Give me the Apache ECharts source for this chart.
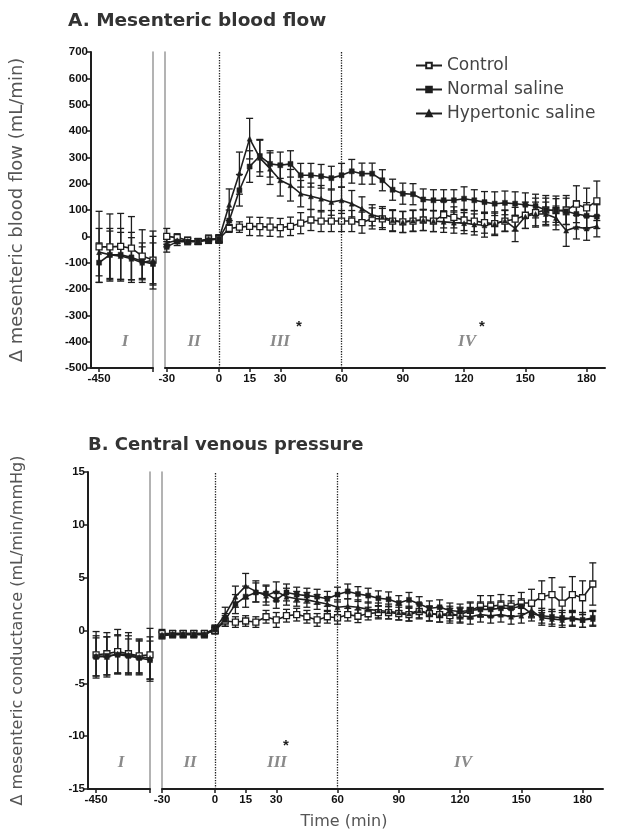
<!DOCTYPE html>
<html><head><meta charset="utf-8">
<script src="https://cdn.jsdelivr.net/npm/echarts@6/dist/echarts.min.js"></script>
<style>html,body{margin:0;padding:0;background:#fff}#c{width:623px;height:835px}</style>
</head><body><div id="c"></div>
<script>
// ---- time points (min): phase I baseline, phase II, phases III-IV ----
const time = [-450,-444,-438,-432,-426,-420,
  -30,-24,-18,-12,-6,0,
  5,10,15,20,25,30,35,40,45,50,55,60,65,70,75,80,85,90,95,100,105,110,115,120,125,130,135,140,145,150,155,160,165,170,175,180,185];

const seriesNames = ['Control','Normal saline','Hypertonic saline'];

// ---- Panel A: mesenteric blood flow (mL/min) ----
const flowControl = [-40,-40,-38,-45,-75,-90,
  0,-5,-15,-20,-10,-10,
  30,35,38,37,35,33,38,50,62,58,58,58,58,52,68,66,58,55,58,62,58,82,72,62,58,52,48,58,65,80,90,100,98,100,122,108,135];
const flowControlSE = [135,125,125,120,100,110,
  30,15,12,10,15,15,
  15,20,35,35,35,35,35,40,40,40,40,40,40,40,40,40,40,40,40,40,40,50,40,40,40,40,40,40,45,50,55,55,55,55,70,75,75];
const flowNS = [-100,-70,-70,-80,-95,-105,
  -40,-20,-20,-20,-15,-10,
  60,175,265,305,275,270,275,232,232,228,221,232,247,238,238,213,177,162,160,140,137,137,137,143,137,130,124,127,124,120,115,100,98,95,85,78,75];
const flowNSSE = [75,100,100,95,70,80,
  20,15,12,10,12,15,
  40,60,60,60,50,50,50,45,45,45,45,45,45,40,40,40,40,40,40,40,40,40,40,45,40,40,45,45,45,45,45,45,45,50,50,50,45];
const flowHS = [-60,-70,-75,-85,-100,-90,
  -25,-15,-18,-18,-10,-10,
  120,240,371,298,257,213,194,162,152,143,130,137,124,105,80,73,61,54,60,62,58,55,52,50,45,42,48,60,30,75,85,85,70,22,35,30,38];
const flowHSSE = [90,90,90,80,60,90,
  15,12,10,10,10,12,
  60,80,77,70,60,60,60,50,50,50,50,50,50,45,40,40,40,40,40,40,40,40,40,40,40,45,45,40,50,45,45,45,45,60,45,45,40];

// ---- Panel B: mesenteric conductance (mL/min/mmHg) ----
const condControl = [-2.3,-2.2,-2.0,-2.2,-2.4,-2.3,
  -0.3,-0.3,-0.3,-0.3,-0.3,0.0,
  0.9,0.8,0.9,0.8,1.3,1.0,1.4,1.5,1.3,1.0,1.3,1.2,1.5,1.35,1.6,1.7,1.7,1.6,1.5,1.8,1.6,1.5,1.4,1.5,1.9,2.3,2.3,2.4,2.3,2.6,2.6,3.2,3.4,2.6,3.4,3.1,4.4];
const condControlSE = [2.2,2.0,2.1,2.0,1.6,2.5,
  0.4,0.3,0.3,0.3,0.3,0.3,
  0.5,0.5,0.5,0.5,0.6,0.7,0.6,0.6,0.6,0.6,0.6,0.6,0.6,0.6,0.6,0.6,0.6,0.6,0.6,0.7,0.7,0.7,0.7,0.7,0.8,1.0,1.0,1.0,1.0,1.0,1.3,1.5,1.6,1.5,1.7,1.6,2.0];
const condNS = [-2.5,-2.4,-2.3,-2.4,-2.6,-2.8,
  -0.5,-0.4,-0.4,-0.4,-0.4,0.1,
  1.0,2.5,3.2,3.6,3.5,2.9,3.6,3.4,3.3,3.2,3.0,3.4,3.7,3.45,3.3,3.05,2.95,2.6,2.9,2.5,2.1,2.2,1.9,1.8,1.9,2.0,2.0,2.1,2.1,2.3,1.6,1.4,1.3,1.2,1.1,1.0,1.2];
const condNSSE = [1.8,1.8,1.8,1.6,1.6,1.8,
  0.3,0.3,0.3,0.3,0.3,0.3,
  0.6,0.9,1.0,0.9,0.8,0.8,0.8,0.7,0.7,0.7,0.7,0.7,0.7,0.7,0.7,0.7,0.7,0.7,0.7,0.7,0.7,0.7,0.7,0.7,0.7,0.7,0.7,0.7,0.7,0.7,0.7,0.7,0.7,0.7,0.7,0.7,0.7];
const condHS = [-2.4,-2.5,-2.2,-2.3,-2.5,-2.6,
  -0.4,-0.3,-0.3,-0.3,-0.3,0.2,
  1.5,3.2,4.2,3.7,3.3,3.7,3.2,3.0,2.9,2.7,2.5,2.2,2.3,2.2,2.0,1.9,1.8,1.7,1.6,1.9,1.6,1.5,1.6,1.4,1.3,1.5,1.4,1.5,1.3,1.4,1.9,1.2,1.1,1.0,1.2,1.0,1.1];
const condHSSE = [1.9,1.9,1.8,1.8,1.6,2.0,
  0.3,0.3,0.3,0.3,0.3,0.3,
  0.7,1.0,1.2,1.0,0.9,0.9,0.8,0.7,0.7,0.7,0.7,0.7,0.7,0.7,0.7,0.7,0.7,0.7,0.7,0.7,0.7,0.7,0.7,0.7,0.7,0.7,0.7,0.7,0.7,0.7,0.7,0.7,0.7,0.7,0.7,0.7,0.7];

// ---- tick labels ----
const ticksBase = [-450];
const ticksPre = [-30];
const ticksMain = [0,15,30,60,90,120,150,180];
const markTimes = [0,60];

const INK = '#1e1e1e';
const symbols = [
  {symbol:'rect', size:6, item:{color:'#fff', borderColor:INK, borderWidth:1.3}},
  {symbol:'rect', size:5, item:{color:INK, borderColor:INK, borderWidth:0.5}},
  {symbol:'triangle', size:5, item:{color:INK, borderColor:INK, borderWidth:0.5}}
];

const panels = [
  {top:52, height:316, ymin:-500, ymax:700, yint:100,
   yname:'Δ mesenteric blood flow (mL/min)', nameGap:65, nameSize:18,
   data:[[flowControl,flowControlSE],[flowNS,flowNSSE],[flowHS,flowHSSE]],
   grids:[
     {left:91, width:62, min:-454.5, max:-420, ticks:[-450,-420], labels:ticksBase, range:[-1000,-400]},
     {left:165, width:54, min:-31, max:0, ticks:ticksPre, labels:ticksPre, range:[-30,0]},
     {left:219, width:386, min:0, max:189, ticks:ticksMain, labels:ticksMain, range:[0,1000]}
   ]},
  {top:472, height:317, ymin:-15, ymax:15, yint:5,
   yname:'Δ mesenteric conductance (mL/min/mmHg)', nameGap:62, nameSize:16,
   data:[[condControl,condControlSE],[condNS,condNSSE],[condHS,condHSSE]],
   grids:[
     {left:88, width:62, min:-454.5, max:-420, ticks:[-450,-420], labels:ticksBase, range:[-1000,-400]},
     {left:162, width:53, min:-30, max:0, ticks:ticksPre, labels:ticksPre, range:[-30,0]},
     {left:215, width:388, min:0, max:190, ticks:ticksMain, labels:ticksMain, range:[0,1000]}
   ]}
];

const tickLabelStyle = {color:'#111', fontSize:11.5, fontWeight:'bold', fontFamily:'Liberation Sans'};
const LABEL_FONT = 'DejaVu Sans';

function errRender(params, api){
  const x = api.value(0), lo = api.value(1), hi = api.value(2);
  const a = api.coord([x, lo]), b = api.coord([x, hi]);
  const w = 3.5, st = {stroke:INK, lineWidth:1.3};
  return {type:'group', children:[
    {type:'line', shape:{x1:a[0], y1:a[1], x2:b[0], y2:b[1]}, style:st},
    {type:'line', shape:{x1:a[0]-w, y1:a[1], x2:a[0]+w, y2:a[1]}, style:st},
    {type:'line', shape:{x1:b[0]-w, y1:b[1], x2:b[0]+w, y2:b[1]}, style:st}
  ]};
}

const grid = [], xAxis = [], yAxis = [], series = [];
panels.forEach(P => {
  P.grids.forEach((g, gi) => {
    const gIdx = grid.length;
    grid.push({left:g.left, width:g.width, top:P.top, height:P.height});
    xAxis.push({type:'value', gridIndex:gIdx, min:g.min, max:g.max,
      axisLine:{show:true, onZero:false, lineStyle:{color:INK, width:2}},
      axisTick:{show:true, customValues:g.ticks, length:4, lineStyle:{color:INK, width:1.5}},
      axisLabel:{show:true, customValues:g.labels, margin:5, ...tickLabelStyle},
      splitLine:{show:false}});
    const yBase = {type:'value', gridIndex:gIdx, min:P.ymin, max:P.ymax, interval:P.yint, splitLine:{show:false}};
    let yIdx;
    if (gi === 0) {
      yIdx = yAxis.length;
      yAxis.push({...yBase, position:'left',
        axisLine:{show:true, onZero:false, lineStyle:{color:INK, width:2}},
        axisTick:{show:true, length:4, lineStyle:{color:INK, width:1.5}},
        axisLabel:{show:true, margin:3, ...tickLabelStyle},
        name:P.yname, nameLocation:'middle', nameGap:P.nameGap,
        nameTextStyle:{fontSize:P.nameSize, color:'#555', fontFamily:LABEL_FONT}});
      yAxis.push({...yBase, position:'right',
        axisLine:{show:true, onZero:false, lineStyle:{color:'#9a9a9a', width:1.5}},
        axisTick:{show:false}, axisLabel:{show:false}});
    } else if (gi === 1) {
      yIdx = yAxis.length;
      yAxis.push({...yBase, position:'left',
        axisLine:{show:true, onZero:false, lineStyle:{color:'#9a9a9a', width:1.5}},
        axisTick:{show:false}, axisLabel:{show:false}});
    } else {
      yIdx = yAxis.length;
      yAxis.push({...yBase, show:false});
    }
    P.data.forEach((pair, si) => {
      const vals = pair[0], se = pair[1];
      const pts = [], errs = [];
      time.forEach((t, i) => {
        if (t >= g.range[0] && t <= g.range[1]) {
          pts.push([t, vals[i]]);
          errs.push([t, vals[i] - se[i], vals[i] + se[i]]);
        }
      });
      series.push({type:'custom', xAxisIndex:gIdx, yAxisIndex:yIdx, data:errs,
        renderItem:errRender, encode:{x:0, y:[1,2]}, silent:true, z:2, clip:false});
      const s = {type:'line', name:seriesNames[si], xAxisIndex:gIdx, yAxisIndex:yIdx, data:pts,
        symbol:symbols[si].symbol, symbolSize:symbols[si].size, showSymbol:true,
        itemStyle:symbols[si].item, lineStyle:{color:INK, width:1.6}, clip:false, z:3, silent:true};
      if (gi === 2 && si === 0) {
        s.markLine = {silent:true, symbol:'none', label:{show:false},
          lineStyle:{color:INK, type:'dotted', width:1.3},
          data: markTimes.map(t => ({xAxis:t}))};
      }
      series.push(s);
    });
  });
});

const romanStyle = {fontSize:17, fontStyle:'italic', fontWeight:'bold', fontFamily:'Liberation Serif', fill:'#8a8a8a', align:'center', verticalAlign:'middle'};
const starStyle = {fontSize:15, fontWeight:'bold', fontFamily:'Liberation Sans', fill:INK, align:'center', verticalAlign:'middle'};
function txt(x, y, text, style){ return {type:'text', x:x, y:y, style:{text:text, ...style}}; }

const option = {
  animation:false,
  backgroundColor:'#fff',
  grid, xAxis, yAxis, series,
  legend:{data:seriesNames, orient:'vertical', left:410, top:52, itemWidth:26, itemHeight:7, itemGap:7,
    selectedMode:false, textStyle:{fontSize:17, color:'#444', fontFamily:LABEL_FONT}},
  graphic:[
    txt(68, 21, 'A. Mesenteric blood flow', {fontSize:18.5, fontWeight:'bold', fontFamily:LABEL_FONT, fill:'#333', align:'left', verticalAlign:'middle'}),
    txt(88, 445, 'B. Central venous pressure', {fontSize:18, fontWeight:'bold', fontFamily:LABEL_FONT, fill:'#333', align:'left', verticalAlign:'middle'}),
    txt(344, 822, 'Time (min)', {fontSize:16, fontFamily:LABEL_FONT, fill:'#555', align:'center', verticalAlign:'middle'}),
    txt(125, 342, 'I', romanStyle), txt(194, 342, 'II', romanStyle), txt(280, 342, 'III', romanStyle), txt(467, 342, 'IV', romanStyle),
    txt(121, 763, 'I', romanStyle), txt(190, 763, 'II', romanStyle), txt(277, 763, 'III', romanStyle), txt(463, 763, 'IV', romanStyle),
    txt(299, 327, '*', starStyle), txt(482, 327, '*', starStyle), txt(286, 746, '*', starStyle)
  ]
};
const chart = echarts.init(document.getElementById('c'));
chart.setOption(option);
</script>
</body></html>
